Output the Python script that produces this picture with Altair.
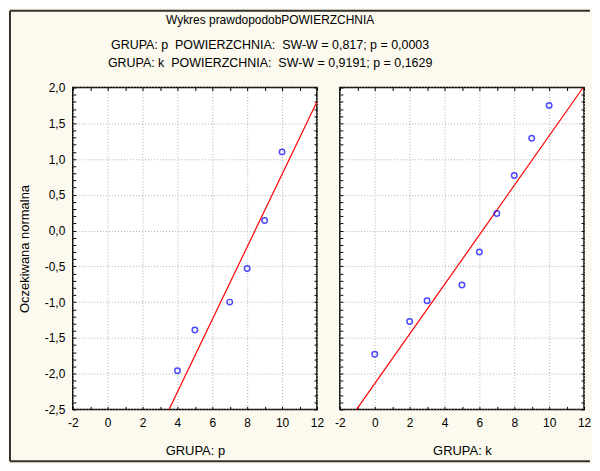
import altair as alt
import pandas as pd

# ---- texts ----
NB = "\u00a0"
title_text = "Wykres prawdopodobPOWIERZCHNIA"
subtitle_lines = [
    f"GRUPA: p {NB}POWIERZCHNIA: {NB}SW-W = 0,817; p = 0,0003",
    f"GRUPA: k {NB}POWIERZCHNIA: {NB}SW-W = 0,9191; p = 0,1629",
]
y_title = "Oczekiwana normalna"
group_titles = ["GRUPA: p", "GRUPA: k"]

# ---- data ----
p_x = [4, 5, 7, 8, 9, 10]
p_y = [-1.96, -1.39, -1.00, -0.53, 0.14, 1.10]
k_x = [0, 2, 3, 5, 6, 7, 8, 9, 10]
k_y = [-1.73, -1.27, -0.98, -0.76, -0.30, 0.24, 0.77, 1.29, 1.75]

# fitted normal lines (end points)
p_line_x = [3.52, 12.0]
p_line_y = [-2.5, 1.80]
k_line_x = [-1.04, 11.95]
k_line_y = [-2.5, 2.0]

# ---- tick labels ----
x_major = [-2, 0, 2, 4, 6, 8, 10, 12]
y_major = [-2.5, -2.0, -1.5, -1.0, -0.5, 0.0, 0.5, 1.0, 1.5, 2.0]
x_minor = list(range(-2, 13))
y_minor = [round(-2.5 + 0.1 * i, 1) for i in range(46)]

CREAM = "#FCFAEE"
BORDER = "#333333"
FONT = "Liberation Sans"

PW, PH = 245, 323

X_LABEL = "datum.value < 0 ? '-' + abs(datum.value) : '' + datum.value"
Y_LABEL = "(datum.value < 0 ? '-' : '') + replace(format(abs(datum.value), '.1f'), '.', ',')"


def tick_axis(orient, values):
    return alt.Axis(orient=orient, values=values, labels=False, domain=False,
                    grid=False, ticks=True, tickSize=3, tickColor="black",
                    tickWidth=1, offset=-3, title=None)


def panel(px, py, lx, ly, xtitle, first):
    pts = pd.DataFrame({"x": px, "y": py})
    ln = pd.DataFrame({"x": lx, "y": ly})
    xs = alt.Scale(domain=[-2, 12], nice=False, zero=False)
    ys = alt.Scale(domain=[-2.5, 2.0], nice=False, zero=False)

    main_x = alt.Axis(values=x_major, labelExpr=X_LABEL, grid=True, ticks=False,
                      domain=False, labelPadding=8, labelFlush=False,
                      title=xtitle, titlePadding=16)
    if first:
        main_y = alt.Axis(values=y_major, labelExpr=Y_LABEL, grid=True, ticks=False,
                          domain=False, labelPadding=8, labelFlush=False,
                          title=y_title, titlePadding=13)
    else:
        main_y = alt.Axis(values=y_major, labels=False, grid=True, ticks=False,
                          domain=False, title=None)

    points = alt.Chart(pts).mark_point(
        shape="circle", filled=False, color="#0000FF", size=30, strokeWidth=1.5
    ).encode(
        x=alt.X("x:Q", scale=xs, axis=main_x),
        y=alt.Y("y:Q", scale=ys, axis=main_y),
    )
    line = alt.Chart(ln).mark_line(color="#FF0000", strokeWidth=1.2, clip=True).encode(
        x=alt.X("x:Q", scale=xs, axis=tick_axis("top", x_minor)),
        y=alt.Y("y:Q", scale=ys, axis=tick_axis("right", y_minor)),
    )
    ghost = alt.Chart(pts).mark_point(opacity=0).encode(
        x=alt.X("x:Q", scale=xs, axis=tick_axis("bottom", x_minor)),
        y=alt.Y("y:Q", scale=ys, axis=tick_axis("left", y_minor)),
    )
    layers = [ghost, line, points]
    if first:
        one = pd.DataFrame({"v": [0]})
        b_left = alt.Chart(one).mark_rule(color=BORDER, strokeWidth=2).encode(
            x=alt.value(-63), y=alt.value(-77), y2=alt.value(375))
        b_top = alt.Chart(one).mark_rule(color=BORDER, strokeWidth=2).encode(
            x=alt.value(-63), x2=alt.value(519), y=alt.value(-77))
        b_bot = alt.Chart(one).mark_rule(color=BORDER, strokeWidth=2).encode(
            x=alt.value(-63), x2=alt.value(519), y=alt.value(375))
        layers += [b_left, b_top, b_bot]
    return alt.layer(*layers).resolve_axis(x="independent", y="independent").properties(
        width=PW, height=PH)


p1 = panel(p_x, p_y, p_line_x, p_line_y, group_titles[0], True)
p2 = panel(k_x, k_y, k_line_x, k_line_y, group_titles[1], False)

chart = alt.hconcat(p1, p2, spacing=23, bounds="flush").properties(
    title=alt.TitleParams(
        text=title_text, subtitle=subtitle_lines, anchor="middle", offset=-62, dx=-30,
        font=FONT, fontSize=12, fontWeight="normal", color="black",
        subtitleFont=FONT, subtitleFontSize=12.5, subtitleColor="black",
        subtitlePadding=12, subtitleLineHeight=18,
    ),
    padding=0,
    background=CREAM,
).configure_view(
    stroke="black", strokeWidth=1.5, fill="white"
).configure_axis(
    labelFont=FONT, labelFontSize=12, labelColor="black",
    titleFont=FONT, titleFontSize=13, titleFontWeight="normal", titleColor="black",
    gridColor="#B0B0B0", gridDash=[1, 2], gridWidth=1,
)

chart.save("out.html", embed_options={"renderer": "svg", "actions": False})
